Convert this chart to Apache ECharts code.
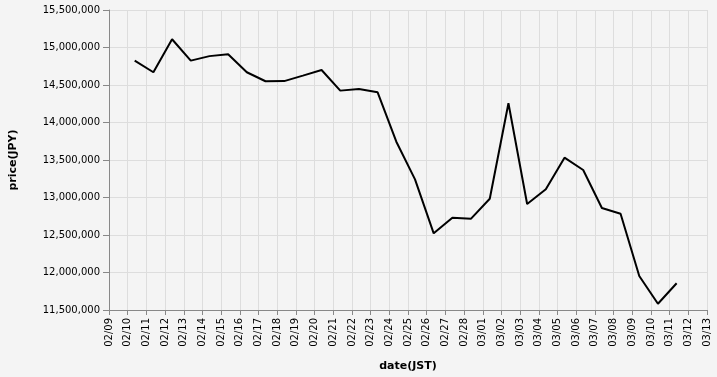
<!DOCTYPE html>
<html>
<head>
<meta charset="utf-8">
<script src="https://cdn.jsdelivr.net/npm/echarts@6/dist/echarts.min.js"></script>
<style>
html,body{margin:0;padding:0;background:#f4f4f4;}
#c{width:717px;height:377px;}
</style>
</head>
<body>
<div id="c"></div>
<script>
const dates = ['02/10','02/11','02/12','02/13','02/14','02/15','02/16','02/17','02/18','02/19',
  '02/20','02/21','02/22','02/23','02/24','02/25','02/26','02/27','02/28','03/01',
  '03/02','03/03','03/04','03/05','03/06','03/07','03/08','03/09','03/10','03/11'];
const prices = [14825000,14670000,15110000,14825000,14885000,14910000,14670000,14550000,14552000,14625000,
  14700000,14425000,14447000,14402000,13744000,13242000,12522000,12731000,12718000,12984000,
  14256000,12913000,13109000,13531000,13367000,12860000,12784000,11953000,11584000,11856000];
const year = 2025;
const hour = 9;
const xStart = '02/09';
const xEnd = '03/13';
const yMin = 11500000, yMax = 15500000, yStep = 500000;

const DAY = 86400000;
function ts(md, h){ const [m,d] = md.split('/').map(Number); return Date.UTC(year, m-1, d, h); }
const seriesData = dates.map((d,i)=>[ts(d,hour), prices[i]]);
const font = 'DejaVu Sans';
const chart = echarts.init(document.getElementById('c'), null, {renderer:'canvas'});
chart.setOption({
  backgroundColor:'#f4f4f4',
  animation:false,
  grid:{left:107,right:10,top:10,bottom:67,containLabel:false},
  xAxis:{
    type:'value', min:ts(xStart,0), max:ts(xEnd,0), interval:DAY,
    name:'date(JST)', nameLocation:'middle', nameGap:51,
    nameTextStyle:{fontFamily:font,fontSize:11,fontWeight:'bold',color:'#000'},
    axisLine:{lineStyle:{color:'#888',width:1}},
    axisTick:{show:true,length:5,lineStyle:{color:'#888'}},
    splitLine:{show:true,lineStyle:{color:'#dddddd',width:1}},
    axisLabel:{rotate:90,fontFamily:font,fontSize:10,color:'#000',margin:8,hideOverlap:false,
      formatter:v=>{const d=new Date(v);return String(d.getUTCMonth()+1).padStart(2,'0')+'/'+String(d.getUTCDate()).padStart(2,'0');}}
  },
  yAxis:{
    type:'value', min:yMin, max:yMax, interval:yStep,
    name:'price(JPY)', nameLocation:'middle', nameGap:90, nameRotate:90,
    nameTextStyle:{fontFamily:font,fontSize:11,fontWeight:'bold',color:'#000'},
    axisLine:{show:true,lineStyle:{color:'#888',width:1}},
    axisTick:{show:true,length:6,lineStyle:{color:'#888'}},
    splitLine:{show:true,lineStyle:{color:'#dddddd',width:1}},
    axisLabel:{fontFamily:font,fontSize:10,color:'#000',margin:9,
      formatter:v=>v.toLocaleString('en-US')}
  },
  series:[{type:'line',data:seriesData,showSymbol:false,lineStyle:{color:'#000',width:2},itemStyle:{color:'#000'}}]
});
</script>
</body>
</html>
